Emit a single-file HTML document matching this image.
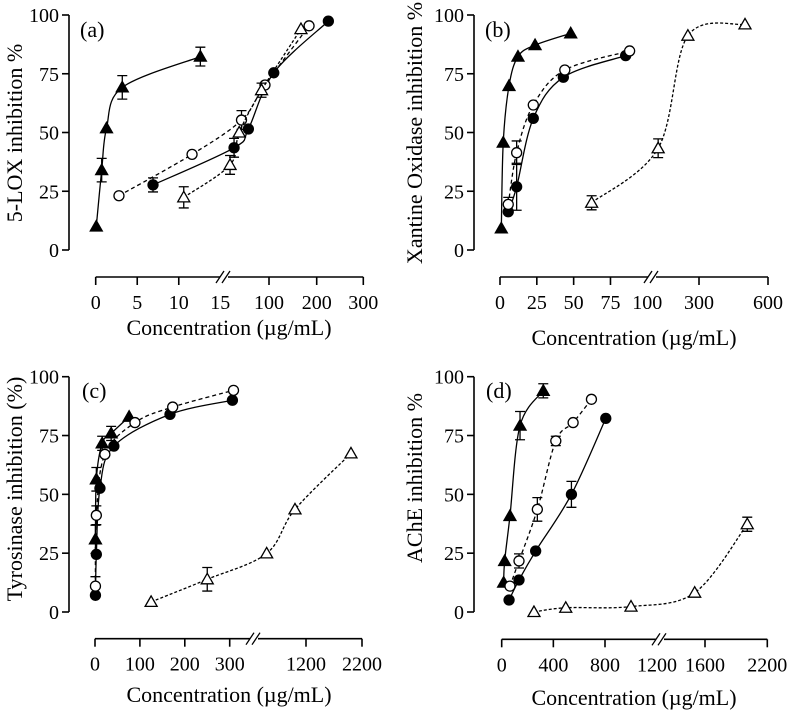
<!DOCTYPE html>
<html><head><meta charset="utf-8"><style>
html,body{margin:0;padding:0;background:#fff;}
svg text{font-family:"Liberation Serif",serif;fill:#000;}
</style></head><body>
<svg id="chart" width="789" height="713" viewBox="0 0 789 713" xmlns="http://www.w3.org/2000/svg"></svg>
<script>
// ---- data ----
// Panel a: 5-LOX
const aFilledTriX=[0.07,0.72,1.3,3.2,12.6];
const aFilledTriY=[10,34,51.8,69.2,82.3];
const aFilledTriE=[0,5,0,5,4];
const aFilledCirX=[6.9,39,64,110,225];
const aFilledCirY=[27.7,43.5,51.5,75.4,97.4];
const aFilledCirE=[3,4,0,0,0];
const aOpenCirX=[2.8,11.6,52,93,184];
const aOpenCirY=[23.1,40.7,55.3,70.2,95.4];
const aOpenCirE=[0,0,4,0,0];
const aOpenTriX=[10.6,32,48,87,167];
const aOpenTriY=[22.4,36.2,50,68,94];
const aOpenTriE=[4.5,4,0,3,0];
// Panel b: Xanthine oxidase
const bFilledTriX=[0.9,2.2,6.1,12.2,23.8,48];
const bFilledTriY=[9.2,45.7,69.8,82.3,87.2,92.2];
const bFilledCirX=[5.6,11.3,22.6,43,85.3];
const bFilledCirY=[16.3,26.9,56,73.5,82.7];
const bFilledCirE=[0,10,0,0,0];
const bOpenCirX=[5.6,11.3,22.6,44,88];
const bOpenCirY=[19.4,41.4,61.7,76.6,84.7];
const bOpenCirE=[3,5,0,0,0];
const bOpenTriX=[62.2,142,257,500];
const bOpenTriY=[20.1,43.3,91.2,96];
const bOpenTriE=[3,4,0,0];
// Panel c: Tyrosinase
const cFilledCirX=[1,3,11,42,167,332];
const cFilledCirY=[7.1,24.5,52.6,70.5,84,90];
const cFilledTriX=[1,3,16,36,76];
const cFilledTriY=[30.9,56.4,71.7,75.9,83];
const cFilledTriE=[6,5,3,3,0];
const cOpenCirX=[1,3,22,89,173,345];
const cOpenCirY=[11,41.1,67,80.5,87.1,94.2];
const cOpenCirE=[4,4,0,0,0,0];
const cOpenTriX=[125,250,736,1070,2003];
const cOpenTriY=[4.3,13.9,24.9,43.6,67.4];
const cOpenTriE=[0,5,0,0,0];
// Panel d: AChE
const dFilledTriX=[15,23,64,142,322];
const dFilledTriY=[12.5,21.7,40.8,79.2,94];
const dFilledTriE=[0,0,0,6,3];
const dFilledCirX=[57,134,263,540,806];
const dFilledCirY=[5.1,13.6,25.9,50,82.3];
const dFilledCirE=[0,0,0,5.5,0];
const dOpenCirX=[64,134,276,419,553,695];
const dOpenCirY=[11,21.7,43.6,72.7,80.5,90.4];
const dOpenCirE=[0,3,5,2,0,0];
const dOpenTriX=[250,496,1000,1514,2007];
const dOpenTriY=[0,1.8,2.3,8.2,37.3];
const dOpenTriE=[0,0,0,0,3];
const yTickVals=[0,25,50,75,100];
const aTickVals=[0,5,10,15,100,200,300];
const bTickVals=[0,25,50,75,100,300,600];
const cTickVals=[0,100,200,300,1200,2200];
const dTickVals=[0,400,800,1200,1600,2200];

const NS="http://www.w3.org/2000/svg";
const svg=document.getElementById('chart');
function mk(tag,attrs,parent){const e=document.createElementNS(NS,tag);for(const k in attrs)e.setAttribute(k,attrs[k]);(parent||svg).appendChild(e);return e;}

function makeScale(dom,rng){return v=>{for(let i=0;i<dom.length-1;i++){if(v<=dom[i+1]||i===dom.length-2){const t=(v-dom[i])/(dom[i+1]-dom[i]);return rng[i]+t*(rng[i+1]-rng[i]);}}};}

function smoothPath(pts){
  if(pts.length<2)return '';
  let d='M'+pts[0][0]+','+pts[0][1];
  for(let i=0;i<pts.length-1;i++){
    const p0=pts[Math.max(0,i-1)],p1=pts[i],p2=pts[i+1],p3=pts[Math.min(pts.length-1,i+2)];
    const c1x=p1[0]+(p2[0]-p0[0])/6,c1y=p1[1]+(p2[1]-p0[1])/6;
    const c2x=p2[0]-(p3[0]-p1[0])/6,c2y=p2[1]-(p3[1]-p1[1])/6;
    d+=' C'+c1x+','+c1y+' '+c2x+','+c2y+' '+p2[0]+','+p2[1];
  }
  return d;
}

const panels=[
 {id:'a',label:'(a)',ytitle:'5-LOX inhibition %',yAxisX:69,yTop:15,y0:250,xAxisY:277,
  dom:[0,15,100,200,300],rng:[95.7,220.3,269,316.7,363.3],ticks:aTickVals,brk:224,
  titleX:229,titleY:335,ytX:22,ytY:133,labX:80,labY:37,
  series:[
   {n:'filled-triangle',x:aFilledTriX,y:aFilledTriY,e:aFilledTriE,m:'tri',fill:true,dash:''},
   {n:'filled-circle',x:aFilledCirX,y:aFilledCirY,e:aFilledCirE,m:'cir',fill:true,dash:''},
   {n:'open-circle',x:aOpenCirX,y:aOpenCirY,e:aOpenCirE,m:'cir',fill:false,dash:'4,3'},
   {n:'open-triangle',x:aOpenTriX,y:aOpenTriY,e:aOpenTriE,m:'tri',fill:false,dash:'3,2'}]},
 {id:'b',label:'(b)',ytitle:'Xantine Oxidase inhibition %',yAxisX:474,yTop:15,y0:250,xAxisY:277,
  dom:[0,100,300,600],rng:[500,647.3,699,768],ticks:bTickVals,brk:652,
  titleX:634,titleY:345,ytX:422,ytY:133,labX:485,labY:37,
  series:[
   {n:'filled-triangle',x:bFilledTriX,y:bFilledTriY,e:null,m:'tri',fill:true,dash:''},
   {n:'filled-circle',x:bFilledCirX,y:bFilledCirY,e:bFilledCirE,m:'cir',fill:true,dash:''},
   {n:'open-circle',x:bOpenCirX,y:bOpenCirY,e:bOpenCirE,m:'cir',fill:false,dash:'4,3'},
   {n:'open-triangle',x:bOpenTriX,y:bOpenTriY,e:bOpenTriE,m:'tri',fill:false,dash:'3,2'}]},
 {id:'c',label:'(c)',ytitle:'Tyrosinase inhibition (%)',yAxisX:69,yTop:376.7,y0:612,xAxisY:638.7,
  dom:[0,300,1200,2200],rng:[95,229.7,306,362],ticks:cTickVals,brk:254,
  titleX:229,titleY:702,ytX:22,ytY:489,labX:82,labY:398,
  series:[
   {n:'filled-circle',x:cFilledCirX,y:cFilledCirY,e:null,m:'cir',fill:true,dash:''},
   {n:'filled-triangle',x:cFilledTriX,y:cFilledTriY,e:cFilledTriE,m:'tri',fill:true,dash:''},
   {n:'open-circle',x:cOpenCirX,y:cOpenCirY,e:cOpenCirE,m:'cir',fill:false,dash:'4,3'},
   {n:'open-triangle',x:cOpenTriX,y:cOpenTriY,e:cOpenTriE,m:'tri',fill:false,dash:'3,2'}]},
 {id:'d',label:'(d)',ytitle:'AChE inhibition %',yAxisX:474,yTop:376.7,y0:612,xAxisY:639.3,
  dom:[0,800,1200,1600,2200],rng:[501.7,605,657,705,767.3],ticks:dTickVals,brk:660,
  titleX:634,titleY:705,ytX:422,ytY:478,labX:486,labY:398,
  series:[
   {n:'filled-triangle',x:dFilledTriX,y:dFilledTriY,e:dFilledTriE,m:'tri',fill:true,dash:''},
   {n:'filled-circle',x:dFilledCirX,y:dFilledCirY,e:dFilledCirE,m:'cir',fill:true,dash:''},
   {n:'open-circle',x:dOpenCirX,y:dOpenCirY,e:dOpenCirE,m:'cir',fill:false,dash:'4,3'},
   {n:'open-triangle',x:dOpenTriX,y:dOpenTriY,e:dOpenTriE,m:'tri',fill:false,dash:'3,2'}]}
];

panels.forEach(p=>{
  const g=mk('g',{});
  
  
  const xs=makeScale(p.dom,p.rng);
  const ys=v=>p.y0+(p.yTop-p.y0)*v/100;
  const ya=mk('line',{x1:p.yAxisX,y1:p.yTop,x2:p.yAxisX,y2:p.y0,stroke:'#000','stroke-width':1.6},g);
  
  
  yTickVals.forEach(v=>{
    mk('line',{x1:p.yAxisX-7,y1:ys(v),x2:p.yAxisX,y2:ys(v),stroke:'#000','stroke-width':1.6},g);
    const t=mk('text',{x:p.yAxisX-10,y:ys(v)+7,'text-anchor':'end','font-size':20},g);
    t.textContent=v;
    
    
  });
  const x0=xs(p.ticks[0]),x1=xs(p.ticks[p.ticks.length-1]);
  const xa=mk('path',{d:'M'+x0+','+p.xAxisY+' H'+(p.brk-4)+' M'+(p.brk+4)+','+p.xAxisY+' H'+x1,stroke:'#000','stroke-width':1.6,fill:'none'},g);
  
  
  mk('path',{d:'M'+(p.brk-8)+','+(p.xAxisY+6)+' L'+(p.brk)+','+(p.xAxisY-6)+' M'+(p.brk-2)+','+(p.xAxisY+6)+' L'+(p.brk+6)+','+(p.xAxisY-6),stroke:'#000','stroke-width':1.3,fill:'none'},g);
  p.ticks.forEach(v=>{
    const X=xs(v);
    if(Math.abs(X-p.brk)>6) mk('line',{x1:X,y1:p.xAxisY,x2:X,y2:p.xAxisY+8,stroke:'#000','stroke-width':1.6},g);
    const t=mk('text',{x:X,y:p.xAxisY+32,'text-anchor':'middle','font-size':20},g);
    t.textContent=v;
    
    
  });
  const xt=mk('text',{x:p.titleX,y:p.titleY,'text-anchor':'middle','font-size':22},g);
  xt.textContent='Concentration (\u00b5g/mL)';
  
  
  const yt=mk('text',{x:p.ytX,y:p.ytY,'text-anchor':'middle','font-size':22,transform:'rotate(-90 '+p.ytX+' '+p.ytY+')'},g);
  yt.textContent=p.ytitle;
  
  
  const lb=mk('text',{x:p.labX,y:p.labY,'font-size':22},g);
  lb.textContent=p.label;
  
  
  p.series.forEach(s=>{
    const sg=mk('g',{},g);
    
    
    const pts=s.x.map((v,i)=>[xs(v),ys(s.y[i])]);
    const ln=mk('path',{d:smoothPath(pts),fill:'none',stroke:'#000','stroke-width':1.3,'stroke-dasharray':s.dash},sg);
    
    
    pts.forEach((pt,i)=>{
      const e=s.e?s.e[i]:0;
      if(e>0){
        const yt1=ys(s.y[i]+e),yb=ys(s.y[i]-e);
        const eb=mk('path',{d:'M'+pt[0]+','+yt1+' V'+yb+' M'+(pt[0]-5)+','+yt1+' H'+(pt[0]+5)+' M'+(pt[0]-5)+','+yb+' H'+(pt[0]+5),stroke:'#000','stroke-width':1.3,fill:'none'},sg);
        
        
      }
      let mkEl;
      if(s.m==='cir'){
        mkEl=mk('circle',{cx:pt[0],cy:pt[1],r:5,fill:s.fill?'#000':'#fff',stroke:'#000','stroke-width':1.3},sg);
      }else{
        const a=6;
        mkEl=mk('polygon',{points:(pt[0])+','+(pt[1]-a)+' '+(pt[0]-a)+','+(pt[1]+a*0.75)+' '+(pt[0]+a)+','+(pt[1]+a*0.75),fill:s.fill?'#000':'#fff',stroke:'#000','stroke-width':1.3},sg);
      }
      
      
    });
  });
});
</script>
</body></html>
